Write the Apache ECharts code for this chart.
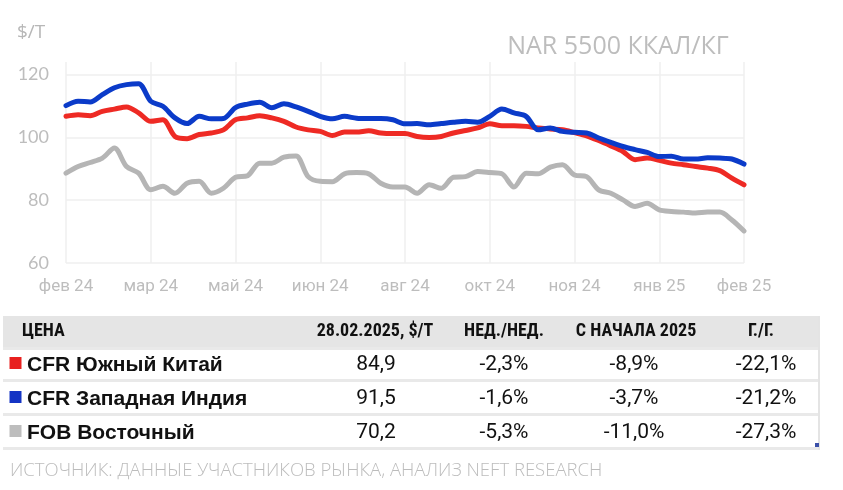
<!DOCTYPE html>
<html><head><meta charset="utf-8">
<script src="https://cdn.jsdelivr.net/npm/echarts@6/dist/echarts.min.js"></script>
<style>html,body{margin:0;padding:0;background:#fff}#c{width:843px;height:490px}</style>
</head><body><div id="c"></div>
<script>
// ---- data ----
const tickLabels = ['фев 24','мар 24','май 24','июн 24','авг 24','окт 24','ноя 24','янв 25','фев 25'];
const weekCount = 57; // weekly observations, Feb 2024 .. Feb 2025
const categories = Array.from({length: weekCount}, (_, i) => 'н' + (i + 1));
const southChina = [106.7,107.2,106.9,108.3,109.0,109.7,107.8,105.1,105.6,100.3,99.6,100.9,101.4,102.4,105.6,106.2,106.9,106.2,105.1,103.3,102.4,101.9,100.6,101.7,101.7,102.1,101.4,101.2,101.2,100.3,100.0,100.3,101.4,102.2,103.0,104.3,103.7,103.7,103.5,103.0,102.7,102.4,101.5,100.5,99.0,97.3,95.5,92.9,93.4,92.7,91.8,91.3,90.7,90.2,89.4,87.0,84.9];
const westIndia = [110.1,111.5,111.3,113.6,115.8,116.8,117.1,111.5,109.9,106.2,104.4,106.7,105.9,106.0,109.5,110.6,111.2,109.4,110.7,109.7,108.3,106.7,105.9,106.7,106.1,106.0,106.0,105.6,104.3,104.4,104.0,104.4,104.8,105.1,104.8,106.7,109.0,107.8,106.7,102.4,103.0,101.9,101.6,101.4,99.8,98.4,97.1,96.1,95.2,93.9,94.0,93.1,93.1,93.5,93.4,93.1,91.5];
const fobEast = [88.6,90.7,92.0,93.4,96.6,90.7,88.6,83.3,84.4,82.2,85.4,86.0,82.2,83.8,87.3,87.8,91.8,91.8,93.7,94.1,87.5,86.0,85.9,88.4,88.8,88.4,85.4,84.2,84.2,82.2,84.9,83.8,87.3,87.5,89.1,88.8,88.4,84.2,88.6,88.4,90.5,91.3,88.0,87.5,83.3,82.2,80.1,78.0,79.0,76.9,76.4,76.2,75.9,76.2,76.2,73.7,70.2];

const tableHeader = ['ЦЕНА','28.02.2025, $/T','НЕД./НЕД.','С НАЧАЛА 2025','Г./Г.'];
const rowNames = ['CFR Южный Китай','CFR Западная Индия','FOB Восточный'];
const lastPrice = ['84,9','91,5','70,2'];
const weekChange = ['-2,3%','-1,6%','-5,3%'];
const ytdChange = ['-8,9%','-3,7%','-11,0%'];
const yoyChange = ['-22,1%','-21,2%','-27,3%'];

const unitLabel = '$/T';
const chartTitle = 'NAR 5500 ККАЛ/КГ';
const sourceText = 'ИСТОЧНИК: ДАННЫЕ УЧАСТНИКОВ РЫНКА, АНАЛИЗ NEFT RESEARCH';

// ---- styles ----
const colors = ['#ee2a24', '#0b3bc9', '#b5b5b5'];
const squareColors = ['#e8201f', '#1434c4', '#bdbdbd'];
const step = (weekCount - 1) / (tickLabels.length - 1);

const chart = echarts.init(document.getElementById('c'), null, {renderer: 'canvas'});

const graphic = [];
graphic.push({type:'text', left:17, top:23, style:{text:unitLabel, font:'19px "Open Sans", sans-serif', fill:'#b7b7b7'}});
graphic.push({type:'text', x:618, y:47, style:{text:chartTitle, font:'25px "Open Sans", sans-serif', fill:'#bdbdbd', textAlign:'center', textVerticalAlign:'middle'}});

// table
graphic.push({type:'rect', shape:{x:3,y:316,width:817,height:31}, style:{fill:'#e5e5e5'}});
[347,379,413,447].forEach(y => graphic.push({type:'rect', shape:{x:3,y:y,width:817,height:3}, style:{fill:'#e9e9e9'}}));
graphic.push({type:'rect', shape:{x:818,y:316,width:2,height:134}, style:{fill:'#e4e4e4'}});
graphic.push({type:'rect', shape:{x:815,y:443,width:4,height:4}, style:{fill:'#3a4fa8'}});

const headerCenters = [375, 504, 636, 761];
const valueCenters = [376, 504, 634, 766];
const headFont = 'bold 18px "Liberation Sans Narrow", "Roboto Condensed", "Liberation Sans", sans-serif';
graphic.push({type:'text', x:22, y:331, style:{text:tableHeader[0], font:headFont, fill:'#111', textAlign:'left', textVerticalAlign:'middle'}});
for (let c = 1; c < tableHeader.length; c++) {
  graphic.push({type:'text', x:headerCenters[c-1], y:331, style:{text:tableHeader[c], font:headFont, fill:'#111', textAlign:'center', textVerticalAlign:'middle'}});
}
const rowYs = [365, 399, 433];
const cols = [lastPrice, weekChange, ytdChange, yoyChange];
rowNames.forEach((name, r) => {
  const y = rowYs[r];
  graphic.push({type:'rect', shape:{x:9.5,y:y-8,width:12,height:12}, style:{fill:squareColors[r]}});
  graphic.push({type:'text', x:27, y:y, style:{text:name, font:'bold 21px "Liberation Sans", Arial, sans-serif', fill:'#111', textAlign:'left', textVerticalAlign:'middle'}});
  cols.forEach((arr, c) => {
    graphic.push({type:'text', x:valueCenters[c], y:y, style:{text:arr[r], font:'21px Roboto, sans-serif', fill:'#111', textAlign:'center', textVerticalAlign:'middle'}});
  });
});
graphic.push({type:'text', x:10, y:471, style:{text:sourceText, font:'300 18.5px "Open Sans", sans-serif', fill:'#bcbcbc', textAlign:'left', textVerticalAlign:'middle'}});

const lineSeries = (name, data, color, z) => ({
  name, type:'line', data, smooth:0.3, showSymbol:false, symbol:'none', z,
  lineStyle:{color, width:5, cap:'round', join:'round'}, itemStyle:{color}
});

chart.setOption({
  animation:false,
  backgroundColor:'#ffffff',
  grid:{left:66, right:99, top:62, bottom:227, containLabel:false},
  xAxis:{
    type:'category', data:categories, boundaryGap:false,
    axisLine:{show:false}, axisTick:{show:false},
    axisLabel:{
      interval:(i) => i % step === 0,
      formatter:(v, i) => tickLabels[Math.round(i / step)],
      color:'#bdbdbd', fontSize:17, fontFamily:'Roboto, sans-serif', margin:15
    },
    splitLine:{show:true, interval:(i) => i % step === 0, lineStyle:{color:'#efefef', width:1.5}}
  },
  yAxis:{
    type:'value', min:60, max:124, interval:20,
    axisLine:{show:false}, axisTick:{show:false},
    axisLabel:{color:'#bdbdbd', fontSize:18, fontFamily:'Lato, sans-serif', margin:17, showMaxLabel:false},
    splitLine:{show:true, showMaxLine:false, lineStyle:{color:'#efefef', width:1.5}}
  },
  series:[
    lineSeries('FOB Восточный', fobEast, colors[2], 2),
    lineSeries('CFR Южный Китай', southChina, colors[0], 3),
    lineSeries('CFR Западная Индия', westIndia, colors[1], 4)
  ],
  graphic
});
</script></body></html>
